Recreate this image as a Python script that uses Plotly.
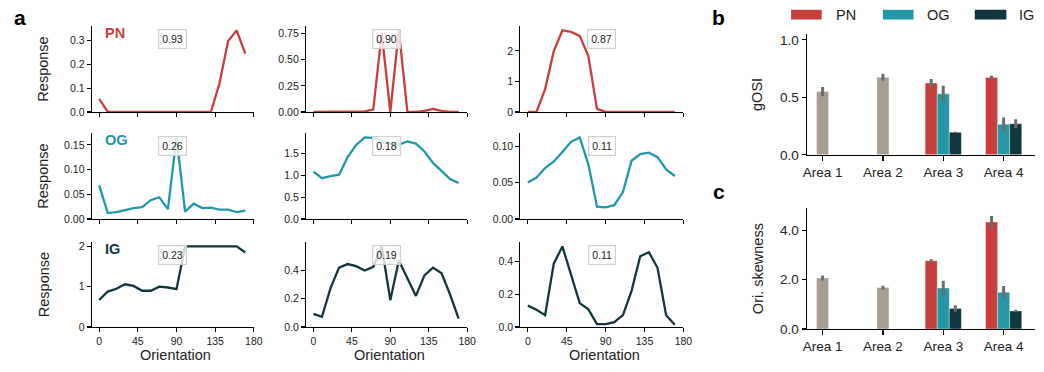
import plotly.graph_objects as go

# ---------------- data ----------------
ORIENT = [0, 10, 20, 30, 40, 50, 60, 70, 80, 90, 100, 110, 120, 130, 140, 150, 160, 170]

PN_1 = [0.055, 0, 0, 0, 0, 0, 0, 0, 0, 0, 0, 0, 0, 0, 0.12, 0.297, 0.342, 0.245]
PN_2 = [0, 0, 0, 0, 0, 0, 0.005, 0.022, 0.757, 0, 0.78, 0, 0, 0.01, 0.03, 0.01, 0, 0]
PN_3 = [0, 0, 0.75, 1.99, 2.67, 2.62, 2.49, 1.83, 0.1, 0, 0, 0, 0, 0, 0, 0, 0, 0]

OG_1 = [0.068, 0.012, 0.014, 0.018, 0.022, 0.024, 0.038, 0.044, 0.02, 0.165,
        0.015, 0.031, 0.022, 0.023, 0.019, 0.019, 0.014, 0.017]
OG_2 = [1.08, 0.93, 0.98, 1.01, 1.41, 1.69, 1.86, 1.85, 1.77, 1.72,
        1.70, 1.77, 1.72, 1.54, 1.28, 1.10, 0.91, 0.82]
OG_3 = [0.050, 0.057, 0.070, 0.079, 0.092, 0.106, 0.112, 0.075, 0.017, 0.016,
        0.019, 0.037, 0.080, 0.089, 0.091, 0.085, 0.068, 0.059]

IG_1 = [0.67, 0.88, 0.95, 1.06, 1.02, 0.90, 0.90, 1.0, 0.98, 0.94,
        2.0, 2.0, 2.0, 2.0, 2.0, 2.0, 2.0, 1.85]
IG_2 = [0.093, 0.072, 0.275, 0.42, 0.445, 0.43, 0.40, 0.425, 0.57, 0.19,
        0.47, 0.35, 0.22, 0.365, 0.42, 0.38, 0.23, 0.06]
IG_3 = [0.13, 0.105, 0.072, 0.385, 0.49, 0.32, 0.145, 0.107, 0.018, 0.018,
        0.03, 0.072, 0.22, 0.43, 0.455, 0.36, 0.072, 0.014]

BOX_VALUES = ["0.93", "0.90", "0.87", "0.26", "0.18", "0.11", "0.23", "0.19", "0.11"]
CELL_TYPES = ["PN", "OG", "IG"]
X_TICKS = [0, 45, 90, 135, 180]

AREAS = ["Area 1", "Area 2", "Area 3", "Area 4"]
MIXED_AREAS = ["Area 1", "Area 2"]
TYPED_AREAS = ["Area 3", "Area 4"]

GOSI_ALL = [0.55, 0.675]
GOSI_ALL_ERR = [0.04, 0.03]
GOSI_PN = [0.625, 0.672]
GOSI_PN_ERR = [0.035, 0.015]
GOSI_OG = [0.53, 0.265]
GOSI_OG_ERR = [0.07, 0.06]
GOSI_IG = [0.195, 0.27]
GOSI_IG_ERR = [0.006, 0.04]

SKEW_ALL = [2.07, 1.68]
SKEW_ALL_ERR = [0.1, 0.08]
SKEW_PN = [2.77, 4.34]
SKEW_PN_ERR = [0.06, 0.25]
SKEW_OG = [1.66, 1.49]
SKEW_OG_ERR = [0.3, 0.25]
SKEW_IG = [0.83, 0.73]
SKEW_IG_ERR = [0.13, 0.05]

# ---------------- style ----------------
W, H = 1044, 372
FONT = "Liberation Sans, Arial, sans-serif"
COLORS = {"PN": "#c63f3d", "OG": "#2197a7", "IG": "#11363f"}
GRAY = "#a89d93"
ERR_COLOR = "#6c6c6c"

def px_x(v):
    return v / W

def px_y(v):
    return 1 - v / H

col_dom = [(89, 253), (306, 469), (523, 688)]
row_dom = [(25, 113), (135, 223), (247, 334)]
ytick_specs = [
    (0.1, ".1f"), (0.25, ".2f"), (1, "d"),
    (0.05, ".2f"), (0.5, ".1f"), (0.05, ".2f"),
    (1, "d"), (0.2, ".1f"), (0.2, ".1f"),
]
series = [[PN_1, PN_2, PN_3], [OG_1, OG_2, OG_3], [IG_1, IG_2, IG_3]]

fig = go.Figure()
layout = {}
annotations = []

def add_text(x, y, text, size, color="#222", xanchor="center", angle=0, **kw):
    annotations.append(dict(x=px_x(x), y=px_y(y), xref="paper", yref="paper",
                            xanchor=xanchor, yanchor="middle", text=text,
                            textangle=angle, showarrow=False,
                            font=dict(size=size, color=color, family=FONT), **kw))

idx = 0
for r in range(3):
    for c in range(3):
        idx += 1
        ys = series[r][c]
        sfx = "" if idx == 1 else str(idx)
        fig.add_trace(go.Scatter(
            x=ORIENT, y=ys, mode="lines",
            line=dict(color=COLORS[CELL_TYPES[r]], width=2.3),
            xaxis="x" + sfx, yaxis="y" + sfx, showlegend=False,
            hoverinfo="skip"))
        dt, fmt = ytick_specs[idx - 1]
        layout["xaxis" + sfx] = dict(
            domain=[px_x(col_dom[c][0]), px_x(col_dom[c][1])],
            anchor="y" + sfx, range=[-8.5, 180],
            tickmode="array", tickvals=X_TICKS,
            ticktext=[str(t) for t in X_TICKS],
            showticklabels=(r == 2),
            ticks="outside", ticklen=4, tickwidth=1.1, tickcolor="black",
            showline=True, linecolor="black", linewidth=1.3,
            showgrid=False, zeroline=False,
            tickfont=dict(size=10.5, color="#222", family=FONT))
        layout["yaxis" + sfx] = dict(
            domain=[px_y(row_dom[r][1]), px_y(row_dom[r][0])],
            anchor="x" + sfx, range=[0, max(ys) * 1.05],
            dtick=dt, tick0=0, tickformat=fmt,
            ticks="outside", ticklen=4, tickwidth=1.1, tickcolor="black",
            showline=True, linecolor="black", linewidth=1.3,
            showgrid=False, zeroline=False,
            tickfont=dict(size=10.5, color="#222", family=FONT))
        cx = (col_dom[c][0] + col_dom[c][1]) / 2
        cy = row_dom[r][0] + 0.15 * (row_dom[r][1] - row_dom[r][0])
        add_text(cx, cy, BOX_VALUES[idx - 1], 10.5,
                 bgcolor="rgba(255,255,255,0.8)", bordercolor="#d0d0d0",
                 borderwidth=1.2, borderpad=3)
    add_text(100, row_dom[r][0] + 7, "<b>%s</b>" % CELL_TYPES[r], 14.5,
             color=COLORS[CELL_TYPES[r]], xanchor="left")
    add_text(40, (row_dom[r][0] + row_dom[r][1]) / 2, "Response", 14.5, angle=-90)

for c in range(3):
    add_text((col_dom[c][0] + col_dom[c][1]) / 2 + 3, 363, "Orientation", 14.5)

# ---------------- bar panels ----------------
bar_panels = [
    (10, (33, 157), [0, 1.05], [0, 0.5, 1.0], "gOSI",
     [(GOSI_ALL, GOSI_ALL_ERR), (GOSI_PN, GOSI_PN_ERR), (GOSI_OG, GOSI_OG_ERR), (GOSI_IG, GOSI_IG_ERR)]),
    (11, (212, 336), [0, 4.9], [0, 2, 4], "Ori. skewness",
     [(SKEW_ALL, SKEW_ALL_ERR), (SKEW_PN, SKEW_PN_ERR), (SKEW_OG, SKEW_OG_ERR), (SKEW_IG, SKEW_IG_ERR)]),
]
bar_w = 0.2
for num, (top, bot), yr, yt, title, sets in bar_panels:
    sfx = str(num)
    groups = [("all", MIXED_AREAS, GRAY, -0.1)] + [
        (ct, TYPED_AREAS, COLORS[ct], -0.3 + k * bar_w) for k, ct in enumerate(CELL_TYPES)]
    for (name, xs, colr, off), (vals, errs) in zip(groups, sets):
        fig.add_trace(go.Bar(
            x=xs, y=vals, width=bar_w, offset=off,
            marker=dict(color=colr, line=dict(color="rgba(255,255,255,0.6)", width=0.6)),
            error_y=dict(type="data", array=errs, color=ERR_COLOR, thickness=3, width=0),
            xaxis="x" + sfx, yaxis="y" + sfx, showlegend=False, hoverinfo="skip"))
    layout["xaxis" + sfx] = dict(
        domain=[px_x(813), 1.0], anchor="y" + sfx, type="category",
        categoryorder="array", categoryarray=AREAS, range=[-0.26, 3.52],
        ticks="outside", ticklen=5, tickwidth=1.2, tickcolor="black",
        showline=True, linecolor="black", linewidth=1.3, showgrid=False,
        tickfont=dict(size=13.5, color="#222", family=FONT))
    layout["yaxis" + sfx] = dict(
        domain=[px_y(bot), px_y(top)], anchor="x" + sfx, range=yr,
        tickmode="array", tickvals=yt, ticktext=["%.1f" % v for v in yt],
        ticks="outside", ticklen=4, tickwidth=1.2, tickcolor="black",
        showline=True, linecolor="black", linewidth=1.3, showgrid=False, zeroline=False,
        tickfont=dict(size=13.5, color="#222", family=FONT))
    add_text(763, (top + bot) / 2, title, 14.5, angle=-90)

# legend (manual, wide patches)
shapes = []
legend_pos = [(797, 828, 840), (890, 921, 933), (983, 1015, 1026)]
for ct, (x0, x1, tx) in zip(CELL_TYPES, legend_pos):
    shapes.append(dict(type="rect", xref="paper", yref="paper",
                       x0=px_x(x0), x1=px_x(x1), y0=px_y(18), y1=px_y(8),
                       fillcolor=COLORS[ct], line=dict(width=0)))
    add_text(tx, 13.5, ct, 14.5, xanchor="left")

# panel letters
for letter, (lx, ly) in zip(["a", "b", "c"], [(16, 16), (724, 16), (724, 195)]):
    add_text(lx, ly, "<b>%s</b>" % letter, 21, color="black")

fig.update_layout(
    width=W, height=H, margin=dict(l=0, r=0, t=0, b=0),
    paper_bgcolor="white", plot_bgcolor="white",
    font=dict(family=FONT, color="#222"),
    barmode="overlay", annotations=annotations, shapes=shapes, **layout)

# remove the default 8px page margin so the figure fills the window exactly
fig.write_html("out.html", config={"displayModeBar": False, "staticPlot": True},
               post_script="document.body.style.margin='0px';")
